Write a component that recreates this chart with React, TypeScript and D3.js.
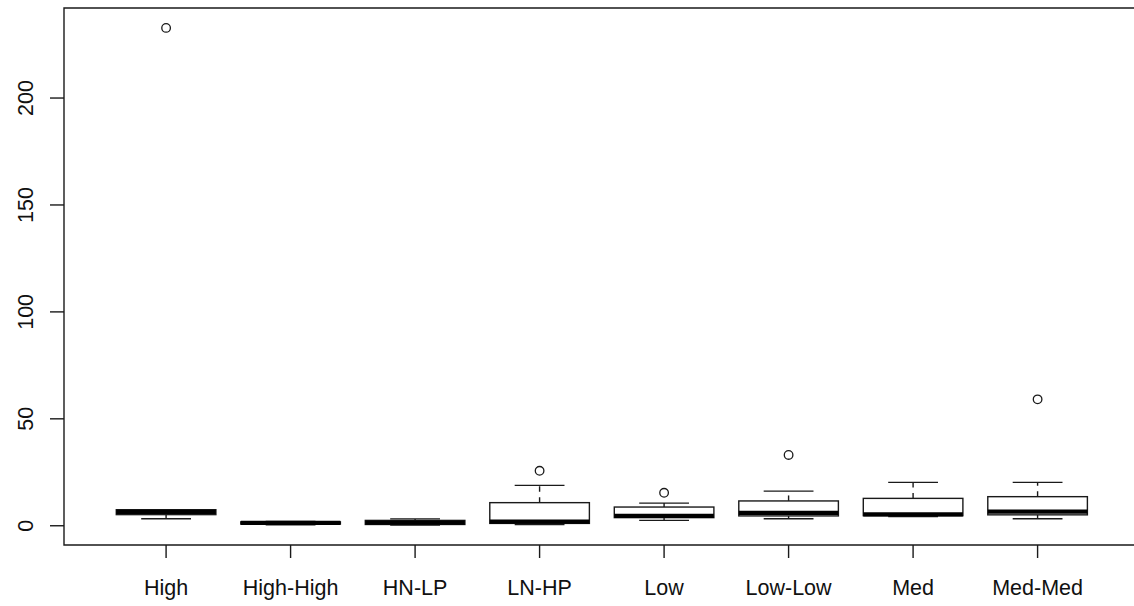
import React from "react";
import * as d3 from "d3";

// Box-plot summary per group
const categories = ["High", "High-High", "HN-LP", "LN-HP", "Low", "Low-Low", "Med", "Med-Med"];
const lowerWhisker = [3.3, 0.5, 0.3, 0.6, 2.5, 3.3, 4.3, 3.3];
const lowerQuartile = [5.2, 0.8, 0.6, 1.1, 3.8, 4.6, 4.7, 5.1];
const medians = [6.5, 1.3, 1.5, 1.9, 4.6, 6.0, 5.3, 6.6];
const upperQuartile = [7.5, 1.8, 2.5, 10.8, 8.75, 11.6, 12.8, 13.6];
const upperWhisker = [7.5, 2.0, 3.2, 18.9, 10.6, 16.2, 20.3, 20.3];
const outliers: number[][] = [[232.8], [], [], [25.7], [15.4], [33.1], [], [59.1]];
const yTicks = [0, 50, 100, 150, 200];

const W = 1134;
const H = 606;
const plotLeft = 64;
const plotTop = 8;
const plotBottom = 545;
const unitPx = 124.5;
const n = categories.length;

const allValues = [
  ...lowerWhisker,
  ...upperWhisker,
  ...outliers.flat(),
];
const yMin = d3.min(allValues) as number;
const yMax = d3.max(allValues) as number;
const yPad = (yMax - yMin) * 0.04;

const xLo = 0.5 - (n * 0.04);
const xHi = n + 0.5 + (n * 0.04);
const x = d3
  .scaleLinear()
  .domain([xLo, xHi])
  .range([plotLeft, plotLeft + (xHi - xLo) * unitPx]);
const y = d3
  .scaleLinear()
  .domain([yMin - yPad, yMax + yPad])
  .range([plotBottom, plotTop]);

const ink = "#1a1a1a";
const font = "Arial, 'Liberation Sans', sans-serif";
const boxHalf = 0.4;
const capHalf = 0.2;

export default function App() {
  const plotRight = x(xHi);
  return (
    <svg
      width={W}
      height={H}
      style={{ position: "absolute", left: 0, top: 0, background: "#fff" }}
    >
      <rect x={0} y={0} width={W} height={H} fill="#fff" />
      {categories.map((c, i) => {
        const cx = x(i + 1);
        const bx0 = x(i + 1 - boxHalf);
        const bx1 = x(i + 1 + boxHalf);
        const sx0 = x(i + 1 - capHalf);
        const sx1 = x(i + 1 + capHalf);
        return (
          <g key={c}>
            {/* whiskers */}
            <line x1={cx} x2={cx} y1={y(upperQuartile[i])} y2={y(upperWhisker[i])}
              stroke={ink} strokeWidth={1.4} strokeDasharray="5.5,5.5" />
            <line x1={cx} x2={cx} y1={y(lowerQuartile[i])} y2={y(lowerWhisker[i])}
              stroke={ink} strokeWidth={1.4} strokeDasharray="5.5,5.5" />
            <line x1={sx0} x2={sx1} y1={y(upperWhisker[i])} y2={y(upperWhisker[i])}
              stroke={ink} strokeWidth={1.4} />
            <line x1={sx0} x2={sx1} y1={y(lowerWhisker[i])} y2={y(lowerWhisker[i])}
              stroke={ink} strokeWidth={1.4} />
            {/* box */}
            <rect x={bx0} y={y(upperQuartile[i])} width={bx1 - bx0}
              height={y(lowerQuartile[i]) - y(upperQuartile[i])}
              fill="#fff" stroke={ink} strokeWidth={1.4} />
            {/* median */}
            <line x1={bx0} x2={bx1} y1={y(medians[i])} y2={y(medians[i])}
              stroke="#000" strokeWidth={4.3} />
            {/* outliers */}
            {outliers[i].map((v, k) => (
              <circle key={k} cx={cx} cy={y(v)} r={4.3} fill="none" stroke={ink} strokeWidth={1.3} />
            ))}
            {/* x tick and label */}
            <line x1={cx} x2={cx} y1={plotBottom} y2={plotBottom + 13} stroke={ink} strokeWidth={1.4} />
            <text x={cx} y={595} textAnchor="middle" fontFamily={font} fontSize={21.5} fill="#111">
              {c}
            </text>
          </g>
        );
      })}
      {/* y axis ticks and labels */}
      {yTicks.map((t) => (
        <g key={t}>
          <line x1={plotLeft - 14} x2={plotLeft} y1={y(t)} y2={y(t)} stroke={ink} strokeWidth={1.4} />
          <text
            transform={`translate(33,${y(t)}) rotate(-90)`}
            textAnchor="middle"
            fontFamily={font}
            fontSize={21.5}
            fill="#111"
          >
            {t}
          </text>
        </g>
      ))}
      {/* plot frame: right side lies past the visible area */}
      <path
        d={`M${plotRight},${plotTop}H${plotLeft}V${plotBottom}H${plotRight}`}
        fill="none"
        stroke={ink}
        strokeWidth={1.4}
      />
    </svg>
  );
}
